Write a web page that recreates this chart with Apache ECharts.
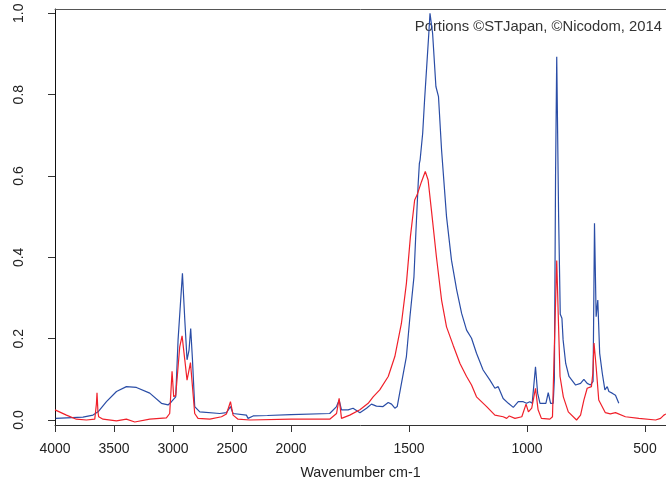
<!DOCTYPE html>
<html>
<head>
<meta charset="utf-8">
<script src="https://cdn.jsdelivr.net/npm/echarts@6/dist/echarts.min.js"></script>
<style>
  html, body { margin: 0; padding: 0; background: #fff; }
  #chart { width: 666px; height: 487px; }
</style>
</head>
<body>
<div id="chart"></div>
<script>
// wavenumber ticks (cm-1) and absorbance ticks
const xTicks = [4000, 3500, 3000, 2500, 2000, 1500, 1000, 500];
const yTicks = [0, 0.2, 0.4, 0.6, 0.8, 1.0];

// blue spectrum
const blueWn = [3994, 3763, 3678, 3635, 3564, 3479, 3395, 3310, 3197, 3098, 3042, 3013, 2977, 2957, 2943, 2920, 2900, 2881, 2864, 2850, 2835, 2816, 2773, 2604, 2547, 2513, 2491, 2378, 2364, 2321, 2200, 2000,
  1836, 1807, 1796, 1786, 1758, 1737, 1708, 1680, 1659, 1638, 1610, 1588, 1574, 1560, 1550, 1532, 1511, 1496, 1479, 1471, 1461, 1456, 1453, 1442, 1434, 1425, 1416, 1411, 1400, 1386, 1375, 1362, 1341, 1320, 1298, 1277, 1256, 1235, 1214, 1186, 1157, 1136, 1122, 1101, 1079, 1058, 1037, 1016, 1002, 988, 978, 964, 955, 945, 920, 910, 900, 889, 884, 879, 874, 866, 859, 852, 847, 836, 822, 794, 773, 759, 745, 731, 720, 714, 707, 700, 692, 681, 670, 660, 653, 639, 625, 611];
const blueAbs = [0.004, 0.007, 0.012, 0.020, 0.045, 0.070, 0.082, 0.080, 0.066, 0.041, 0.037, 0.045, 0.057, 0.197, 0.201, 0.361, 0.246, 0.148, 0.172, 0.225, 0.148, 0.033, 0.020, 0.016, 0.018, 0.033, 0.016, 0.012, 0.004, 0.010, 0.011, 0.013,
  0.016, 0.033, 0.049, 0.025, 0.025, 0.029, 0.018, 0.029, 0.039, 0.034, 0.033, 0.043, 0.039, 0.029, 0.033, 0.090, 0.156, 0.254, 0.352, 0.459, 0.582, 0.631, 0.639, 0.705, 0.787, 0.869, 0.951, 1.000, 0.951, 0.820, 0.795, 0.664, 0.500, 0.393, 0.320, 0.262, 0.221, 0.201, 0.164, 0.123, 0.098, 0.078, 0.082, 0.053, 0.041, 0.031, 0.045, 0.045, 0.041, 0.045, 0.041, 0.131, 0.066, 0.041, 0.041, 0.067, 0.041, 0.041, 0.100, 0.600, 0.893, 0.500, 0.260, 0.250, 0.197, 0.139, 0.107, 0.086, 0.090, 0.100, 0.090, 0.086, 0.095, 0.484, 0.254, 0.295, 0.164, 0.115, 0.074, 0.082, 0.070, 0.066, 0.061, 0.041];

// red spectrum
const redWn = [4000, 3903, 3819, 3734, 3663, 3649, 3644, 3636, 3630, 3593, 3479, 3395, 3324, 3197, 3056, 3028, 3008, 2994, 2977, 2957, 2943, 2923, 2900, 2881, 2869, 2852, 2835, 2816, 2788, 2688, 2589, 2547, 2513, 2491, 2449, 2349, 2000,
  1836, 1807, 1796, 1786, 1779, 1751, 1708, 1673, 1652, 1624, 1588, 1560, 1532, 1511, 1494, 1476, 1466, 1447, 1431, 1419, 1405, 1384, 1362, 1341, 1313, 1284, 1256, 1235, 1214, 1171, 1136, 1101, 1086, 1075, 1051, 1022, 1004, 994, 980, 964, 953, 939, 903, 892, 881, 874, 867, 860, 846, 825, 790, 773, 759, 745, 727, 721, 716, 707, 696, 668, 647, 625, 583, 526, 455, 434, 420, 411];
const redAbs = [0.025, 0.012, 0.002, 0.000, 0.002, 0.040, 0.067, 0.020, 0.008, 0.002, -0.002, 0.002, -0.005, 0.002, 0.005, 0.016, 0.120, 0.057, 0.061, 0.131, 0.180, 0.207, 0.148, 0.098, 0.102, 0.141, 0.082, 0.016, 0.004, 0.002, 0.008, 0.015, 0.045, 0.012, 0.002, 0.000, 0.002,
  0.002, 0.016, 0.053, 0.004, 0.002, 0.012, 0.025, 0.041, 0.057, 0.074, 0.107, 0.156, 0.238, 0.336, 0.451, 0.541, 0.553, 0.586, 0.611, 0.590, 0.516, 0.402, 0.295, 0.229, 0.184, 0.139, 0.107, 0.086, 0.057, 0.033, 0.012, 0.008, 0.004, 0.010, 0.004, 0.008, 0.039, 0.020, 0.029, 0.078, 0.025, 0.004, 0.002, 0.008, 0.246, 0.392, 0.246, 0.107, 0.057, 0.020, 0.000, 0.012, 0.049, 0.078, 0.082, 0.115, 0.189, 0.131, 0.049, 0.018, 0.015, 0.018, 0.008, 0.004, 0.000, 0.004, 0.012, 0.015];

// the axis is stretched x2 below 2000 cm-1
function toU(wn) { return wn >= 2000 ? wn : 2 * wn - 2000; }
function fromU(u) { return u >= 2000 ? u : (u + 2000) / 2; }

const font = 'Liberation Sans, Arial, sans-serif';
const chart = echarts.init(document.getElementById('chart'));

chart.setOption({
  animation: false,
  backgroundColor: '#fff',
  textStyle: { fontFamily: font },
  grid: { left: 55, right: 0, top: 9, bottom: 62 },
  xAxis: [
    {
      type: 'value',
      inverse: true,
      min: toU(411),
      max: 4000,
      name: 'Wavenumber cm-1',
      nameLocation: 'middle',
      nameGap: 41,
      nameTextStyle: { fontSize: 14.3, color: '#222', fontFamily: font },
      axisLine: { show: true, onZero: false, lineStyle: { color: '#333', width: 1 } },
      axisTick: { show: true, length: 7, customValues: xTicks.map(toU), lineStyle: { color: '#333' } },
      axisLabel: {
        fontSize: 14, color: '#222', margin: 17, fontFamily: font,
        customValues: xTicks.map(toU),
        formatter: v => String(Math.round(fromU(v)))
      },
      splitLine: { show: false }
    },
    {
      type: 'value',
      position: 'top',
      inverse: true,
      min: toU(411),
      max: 4000,
      axisLine: { show: true, onZero: false, lineStyle: { color: '#555', width: 1 } },
      axisTick: { show: false },
      axisLabel: { show: false },
      splitLine: { show: false }
    }
  ],
  yAxis: {
    type: 'value',
    min: -0.0123,
    max: 1.0106,
    axisLine: { show: true, onZero: false, lineStyle: { color: '#111', width: 1 } },
    axisTick: { show: true, length: 7, customValues: yTicks, lineStyle: { color: '#333' } },
    axisLabel: {
      fontSize: 14, color: '#222', rotate: 90, margin: 29, fontFamily: font,
      customValues: yTicks,
      formatter: v => v.toFixed(1)
    },
    splitLine: { show: false }
  },
  graphic: [{
    type: 'text',
    right: 4,
    top: 19,
    style: { text: 'Portions ©STJapan, ©Nicodom, 2014', fontSize: 14.8, fill: '#333', fontFamily: font }
  }],
  series: [
    {
      name: 'blue',
      type: 'line',
      showSymbol: false,
      data: blueWn.map((w, i) => [toU(w), blueAbs[i]]),
      lineStyle: { color: '#2a4da6', width: 1.2 },
      z: 2
    },
    {
      name: 'red',
      type: 'line',
      showSymbol: false,
      data: redWn.map((w, i) => [toU(w), redAbs[i]]),
      lineStyle: { color: '#f0202a', width: 1.2 },
      z: 3
    }
  ]
});
</script>
</body>
</html>
